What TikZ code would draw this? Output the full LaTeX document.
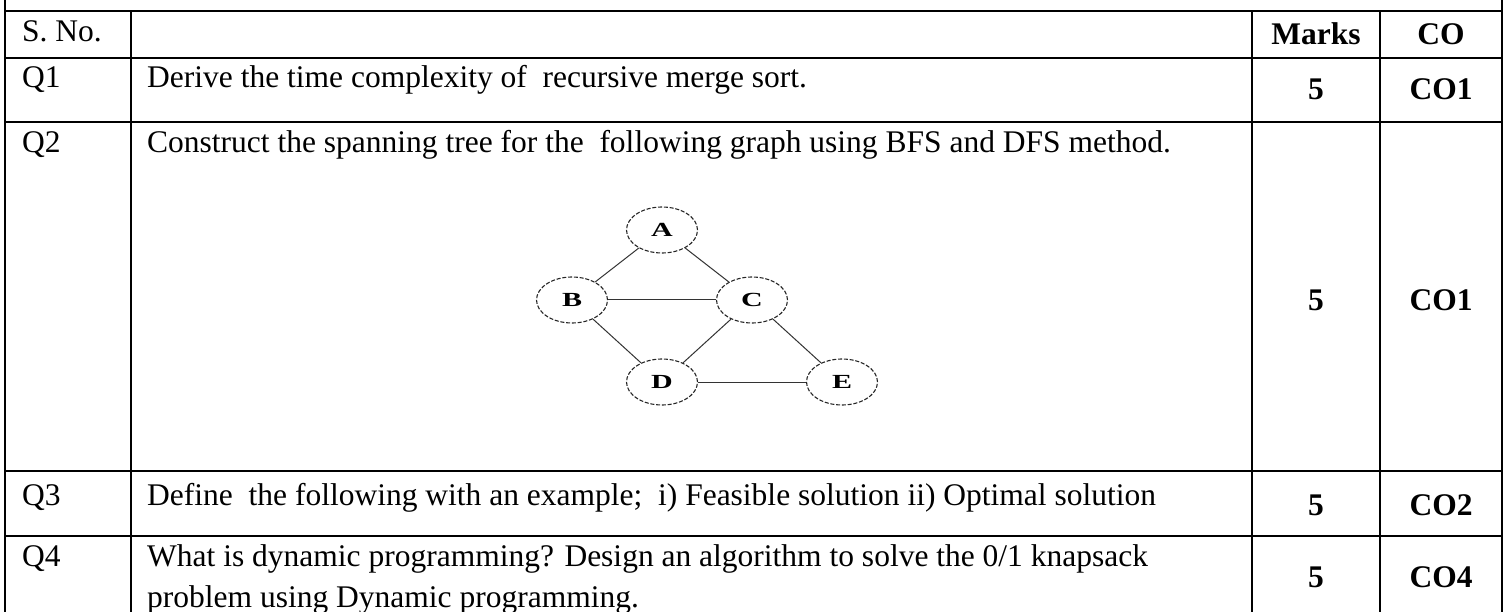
\documentclass[tikz,border=0pt]{standalone}
\usepackage{fontspec}
\usepackage{graphicx}
\setmainfont{Liberation Serif}
\usetikzlibrary{shapes.geometric}
\begin{document}
\begin{tikzpicture}[x=1pt,y=-1pt,
  rule/.style={line width=1.2pt,black},
  txt/.style={anchor=base west,inner sep=0pt,font=\fontsize{31.5}{38}\selectfont},
  mk/.style={anchor=base,inner sep=0pt,font=\fontsize{31.5}{38}\selectfont\bfseries},
  vtx/.style={ellipse,draw=black!85,line width=1.1pt,dash pattern=on 4pt off 1.8pt,
    minimum width=71pt,minimum height=46pt,inner sep=0pt,
    font=\fontsize{20}{20}\selectfont\bfseries},
  edge/.style={line width=1pt,black!80}]
\fill[white] (0,0) rectangle (1510,612);
\useasboundingbox (0,0) rectangle (1510,612);

% table rules
\draw[rule] (5,0) -- (5,612);
\draw[rule] (1502,0) -- (1502,612);
\draw[rule] (5,11) -- (1502,11);
\foreach \y in {58,122,471,536} \draw[rule] (5,\y) -- (1502,\y);
\foreach \x in {131,1252,1380} \draw[rule] (\x,11) -- (\x,612);

% header row
\node[txt] (hsno) at (22,42) {S. No.};
\node[mk] (hmarks) at (1316,45) {Marks};
\node[mk] (hco) at (1441,45) {CO};

% Q1
\node[txt] (q1) at (22,88) {Q1};
\node[txt] (q1t) at (147,88) {Derive the time complexity of\ \ recursive merge sort.};
\node[mk] (q1m) at (1316,100) {5};
\node[mk] (q1c) at (1441,100) {CO1};

% Q2
\node[txt] (q2) at (22,153) {Q2};
\node[txt] (q2t) at (147,153) {Construct the spanning tree for the\ \ following graph using BFS and DFS method.};
\node[mk] (q2m) at (1316,311) {5};
\node[mk] (q2c) at (1441,311) {CO1};

% graph
\node[vtx] (A) at (662,230) {\scalebox{1.5}[1]{A}};
\node[vtx] (B) at (572,300) {\scalebox{1.5}[1]{B}};
\node[vtx] (C) at (752,300) {\scalebox{1.5}[1]{C}};
\node[vtx] (D) at (662,382) {\scalebox{1.5}[1]{D}};
\node[vtx] (E) at (842,382) {\scalebox{1.5}[1]{E}};
\draw[edge] (A) -- (B);
\draw[edge] (A) -- (C);
\draw[edge] (B) -- (C);
\draw[edge] (B) -- (D);
\draw[edge] (C) -- (D);
\draw[edge] (C) -- (E);
\draw[edge] (D) -- (E);

% Q3
\node[txt] (q3) at (22,505) {Q3};
\node[txt] (q3t) at (147,505) {Define\ \ the following with an example;\ \ i) Feasible solution ii) Optimal solution};
\node[mk] (q3m) at (1316,515) {5};
\node[mk] (q3c) at (1441,515) {CO2};

% Q4
\node[txt] (q4) at (22,566) {Q4};
\node[txt] (q4t) at (147,566) {What is dynamic programming? Design an algorithm to solve the 0/1 knapsack};
\node[txt] (q4u) at (147,607) {problem using Dynamic programming.};
\node[mk] (q4m) at (1316,587) {5};
\node[mk] (q4c) at (1441,587) {CO4};
\end{tikzpicture}
\end{document}
